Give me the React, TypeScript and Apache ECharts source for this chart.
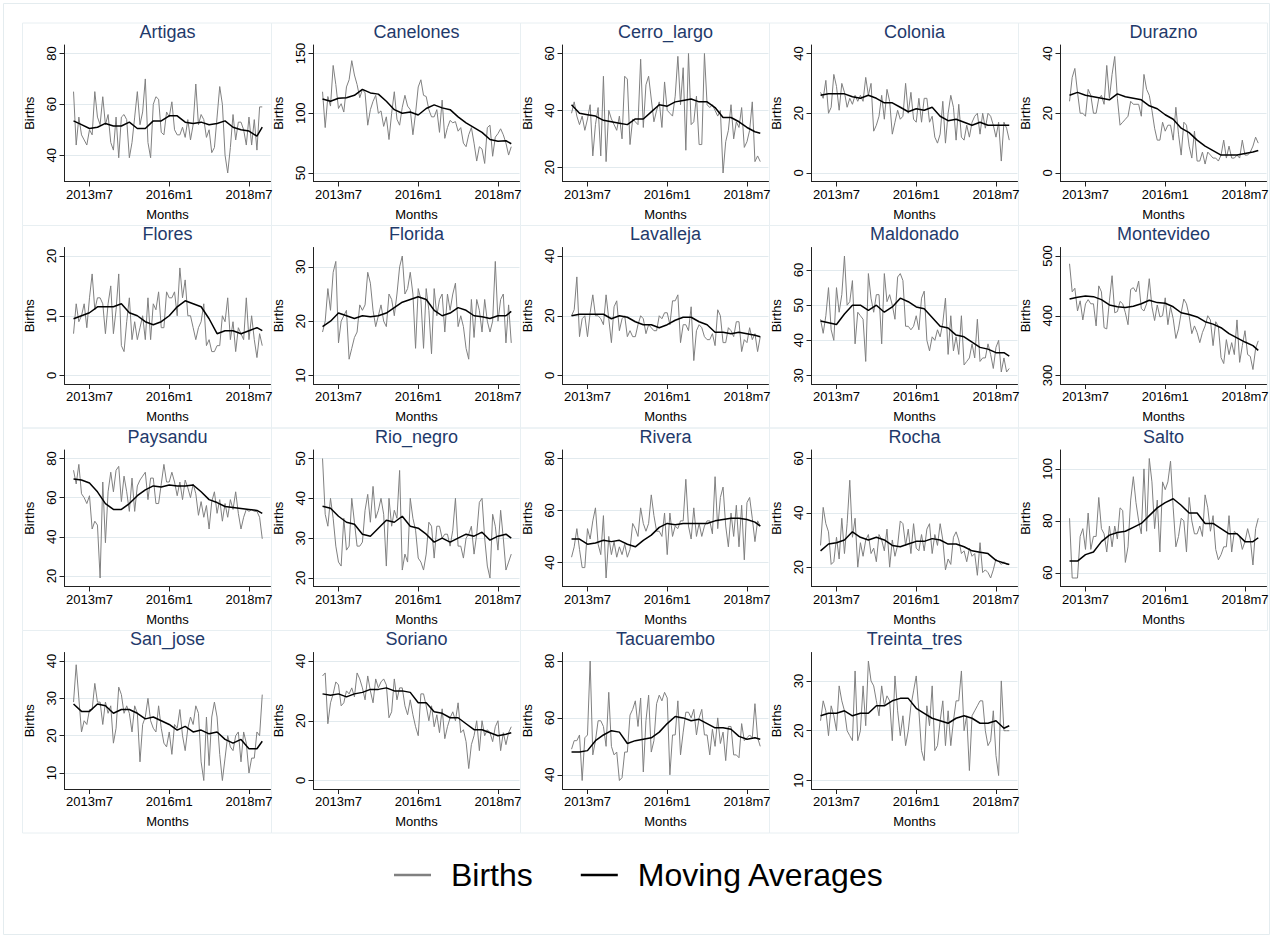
import React, { useEffect, useRef } from "react";
import * as echarts from "echarts";

const DEPARTMENTS = [
  "Artigas", "Canelones", "Cerro_largo", "Colonia", "Durazno",
  "Flores", "Florida", "Lavalleja", "Maldonado", "Montevideo",
  "Paysandu", "Rio_negro", "Rivera", "Rocha", "Salto",
  "San_jose", "Soriano", "Tacuarembo", "Treinta_tres",
];

// month index 0 = 2013m1
const MONTH_TICKS = [6, 36, 66];
const MONTH_LABELS = ["2013m7", "2016m1", "2018m7"];
const MA_MONTHS = [0, 3, 6, 9, 12, 15, 18, 21, 24, 27, 30, 33, 36, 39, 42, 45, 48, 51, 54, 57, 60, 63, 66, 69, 71];

const Y_TICKS = [
  [40, 60, 80], [50, 100, 150], [20, 40, 60], [0, 20, 40], [0, 20, 40],
  [0, 10, 20], [10, 20, 30], [0, 20, 40], [30, 40, 50, 60], [300, 400, 500],
  [20, 40, 60, 80], [20, 30, 40, 50], [40, 60, 80], [20, 40, 60], [60, 80, 100],
  [10, 20, 30, 40], [0, 20, 40], [40, 60, 80], [10, 20, 30],
];

const ARTIGAS_BIRTHS = [
  65, 44, 55, 48, 46, 44, 50, 48, 65, 55, 52, 63,
  52, 56, 45, 42, 55, 39, 55, 56, 54, 39, 45, 55,
  65, 52, 57, 70, 45, 39, 60, 63, 62, 49, 48, 57,
  55, 61, 50, 48, 48, 51, 47, 54, 46, 52, 68, 52,
  56, 54, 47, 50, 41, 43, 55, 67, 60, 40, 33, 43,
  56, 46, 53, 53, 50, 44, 55, 44, 54, 42, 59, 59,
];
const ARTIGAS_MA = [53.5, 52, 50.5, 51, 52.5, 51.5, 51.5, 53, 50.5, 50.5, 53.5, 53.5, 55.5, 55.5, 53, 52.5, 53, 52, 52.5, 53.5, 51, 50, 49.5, 47.5, 51];

const CANELONES_BIRTHS = [
  118, 88, 114, 106, 140, 124, 104, 108, 101, 122, 128, 144,
  132, 124, 113, 120, 117, 90, 103, 110, 115, 100, 102, 89,
  97, 78, 100, 118, 95, 90, 105, 115, 106, 103, 82, 100,
  122, 128, 115, 114, 103, 97, 97, 103, 84, 111, 79, 88,
  94, 92, 93, 85, 88, 75, 72, 82, 88, 75, 60, 72,
  70, 58, 88, 90, 64, 80, 83, 87, 82, 75, 65, 72,
];
const CANELONES_MA = [112, 110, 112.5, 113, 115, 120, 117, 116, 110, 103, 100, 101, 98.5, 104, 107, 104.5, 103, 97, 92, 88, 84, 78, 76.5, 77, 74.5];

const CERRO_LARGO_BIRTHS = [
  39, 43, 38, 35, 38, 33, 37, 42, 24, 35, 41, 24,
  52, 22, 40, 37, 35, 33, 38, 30, 52, 51, 28, 37,
  36, 35, 58, 34, 49, 52, 44, 36, 40, 43, 34, 50,
  40, 39, 38, 45, 59, 42, 55, 26, 60, 35, 36, 45,
  28, 28, 60, 42, 41, 42, 40, 38, 40, 18, 29, 33,
  42, 30, 36, 34, 41, 27, 29, 33, 43, 22, 24, 22,
];
const CERRO_LARGO_MA = [42, 39, 38.5, 38, 36.5, 36, 35.5, 35, 37, 37, 39.5, 42, 41.5, 43, 43.5, 44, 43, 43, 41, 37.5, 37.5, 36, 34, 32.5, 32];

const COLONIA_BIRTHS = [
  27, 25, 31, 20, 22, 33, 29, 21, 30, 27, 22, 25,
  23, 26, 24, 26, 24, 32, 26, 30, 14, 16, 19, 26,
  18, 28, 24, 13, 17, 21, 18, 19, 30, 20, 27, 18,
  17, 25, 17, 25, 25, 17, 19, 12, 10, 13, 24, 10,
  20, 26, 22, 11, 23, 12, 11, 16, 12, 17, 19, 20,
  13, 20, 15, 20, 19, 16, 12, 17, 4, 17, 15, 11,
];
const COLONIA_MA = [26, 26.5, 26.5, 26.5, 25.5, 25, 26, 25, 23.5, 23.5, 22, 20.5, 21.5, 21, 22, 19, 17.5, 18, 17, 16, 17, 16, 16, 16, 16];

const DURAZNO_BIRTHS = [
  24, 32, 35, 27, 20, 20, 19, 28, 26, 20, 20, 25,
  26, 23, 36, 25, 33, 39, 25, 16, 17, 18, 19, 24,
  23, 23, 23, 19, 33, 28, 26, 21, 15, 11, 11, 17,
  14, 16, 16, 11, 22, 13, 6, 17, 16, 9, 5, 14,
  4, 4, 7, 3, 7, 6, 5, 5, 4, 6, 11, 5,
  9, 5, 5, 6, 5, 11, 6, 6, 7, 9, 12, 10,
];
const DURAZNO_MA = [26, 27, 26, 25.5, 25, 24.5, 26.5, 25.5, 25, 24.5, 22.5, 21.5, 19.5, 18, 15, 13.5, 11, 9, 7.5, 6, 6, 6, 6.5, 7, 7.5];

const FLORES_BIRTHS = [
  7, 12, 9, 10, 12, 8, 13, 17, 11, 13, 13, 12,
  7, 12, 15, 7, 11, 17, 5, 4, 9, 13, 6, 9,
  6, 8, 10, 6, 13, 6, 12, 11, 14, 8, 8, 14,
  13, 13, 14, 10, 18, 13, 16, 10, 10, 8, 6, 8,
  9, 12, 5, 6, 4, 4, 5, 5, 10, 9, 13, 6,
  9, 4, 8, 7, 6, 13, 6, 10, 6, 3, 7, 5,
];
const FLORES_MA = [9.5, 10, 10.5, 11.5, 11.5, 11.5, 12, 10.5, 10, 9, 8.5, 9, 10, 11.5, 12.5, 12, 11.5, 9.5, 7, 7.5, 7.5, 7, 7.5, 8, 7.5];

const FLORIDA_BIRTHS = [
  18, 20, 26, 22, 29, 31, 16, 20, 21, 22, 13, 15,
  17, 18, 23, 22, 23, 29, 27, 22, 19, 21, 23, 20,
  19, 25, 24, 21, 25, 30, 32, 25, 26, 29, 25, 15,
  26, 24, 15, 26, 22, 14, 26, 21, 24, 25, 18, 25,
  22, 25, 27, 19, 21, 19, 15, 13, 24, 17, 24, 22,
  18, 24, 20, 18, 20, 31, 20, 24, 25, 16, 23, 16,
];
const FLORIDA_MA = [19, 20, 21.5, 21, 20.5, 21, 20.8, 21, 21.5, 22.5, 23.5, 24, 24.5, 24, 22, 21, 21.5, 22.5, 22, 21, 20.8, 20.5, 21, 21, 21.8];

const LAVALLEJA_BIRTHS = [
  20, 22, 33, 13, 19, 20, 13, 21, 27, 20, 20, 19,
  17, 27, 19, 11, 23, 25, 15, 19, 20, 13, 15, 13,
  13, 17, 20, 19, 14, 17, 16, 15, 15, 20, 19, 21,
  21, 17, 25, 25, 27, 11, 17, 17, 15, 23, 5, 15,
  17, 16, 13, 12, 12, 14, 10, 22, 20, 11, 11, 16,
  15, 13, 18, 18, 8, 12, 11, 16, 12, 14, 8, 13,
];
const LAVALLEJA_MA = [20, 20.5, 20.5, 20.5, 20.5, 19, 20, 19.5, 18, 17, 17, 16, 17, 18.5, 19.5, 19.5, 18, 17, 14.5, 14.5, 14, 14.5, 14, 13.5, 13];

const MALDONADO_BIRTHS = [
  46, 42, 47, 55, 43, 40, 55, 48, 53, 64, 50, 51,
  57, 39, 48, 47, 46, 34, 59, 52, 48, 53, 53, 39,
  59, 51, 53, 50, 46, 58, 59, 57, 44, 44, 43, 44,
  47, 43, 52, 54, 40, 37, 41, 40, 43, 41, 45, 52,
  36, 47, 37, 41, 36, 47, 33, 34, 35, 39, 35, 46,
  34, 35, 35, 39, 36, 32, 38, 40, 31, 35, 31, 32,
];
const MALDONADO_MA = [45.5, 45, 44.5, 47.5, 50, 50, 48.5, 50, 48, 49.5, 52, 51, 49.5, 49, 46.5, 44, 43.5, 41.5, 41, 39.5, 38, 37.5, 36.5, 36.5, 35.5];

const MONTEVIDEO_BIRTHS = [
  487, 440, 446, 408, 425, 393, 420, 427, 420, 420, 383, 450,
  440, 380, 378, 425, 467, 405, 407, 424, 420, 405, 385, 444,
  447, 440, 458, 412, 408, 420, 462, 415, 392, 418, 398, 400,
  430, 385, 415, 395, 362, 378, 405, 428, 420, 400, 370, 383,
  372, 355, 372, 383, 400, 393, 350, 390, 382, 330, 320, 360,
  335, 355, 335, 393, 322, 350, 375, 335, 332, 310, 345, 358,
];
const MONTEVIDEO_MA = [428, 431, 433, 432, 427, 418, 415, 414, 416, 420, 426, 422, 421, 415, 405, 402, 398, 390, 386, 380, 370, 363, 356, 350, 342];

const PAYSANDU_BIRTHS = [
  74, 67, 77, 62, 60, 57, 61, 44, 48, 46, 19, 68,
  37, 63, 73, 63, 74, 76, 58, 71, 63, 53, 70, 53,
  66, 69, 71, 73, 59, 70, 70, 57, 57, 67, 77, 68,
  68, 73, 68, 61, 68, 59, 69, 65, 60, 67, 62, 51,
  58, 50, 56, 44, 58, 63, 52, 59, 48, 57, 50, 59,
  54, 63, 52, 44, 50, 54, 53, 54, 53, 53, 50, 39,
];
const PAYSANDU_MA = [69.5, 69, 67.5, 63, 57, 54, 54, 57, 61, 64, 66, 65.5, 66.5, 66, 66, 66.5, 63, 59, 57.5, 55.5, 55, 54.5, 54, 53.5, 52];

const RIO_NEGRO_BIRTHS = [
  50, 36, 33, 40, 35, 28, 24, 23, 35, 27, 28, 40,
  34, 28, 28, 29, 37, 41, 34, 43, 35, 37, 40, 36,
  23, 40, 33, 37, 35, 47, 22, 26, 24, 40, 35, 32,
  25, 24, 22, 26, 34, 33, 25, 33, 33, 30, 31, 31,
  28, 32, 40, 28, 28, 25, 30, 31, 33, 26, 31, 39,
  40, 30, 23, 20, 36, 33, 27, 37, 30, 22, 24, 26,
];
const RIO_NEGRO_MA = [38, 37.5, 35.5, 34, 33.5, 31, 30.5, 32.5, 34.5, 34, 35.5, 33, 32.5, 31, 29, 30, 29, 30, 31, 30.5, 31.5, 29.5, 30.5, 31, 30];

const RIVERA_BIRTHS = [
  42, 46, 53, 45, 38, 38, 53, 49, 56, 61, 47, 43,
  58, 34, 50, 43, 48, 42, 46, 43, 47, 42, 45, 55,
  53, 50, 61, 55, 52, 55, 66, 58, 52, 52, 50, 59,
  43, 59, 50, 54, 53, 56, 56, 72, 54, 49, 61, 50,
  55, 50, 54, 56, 56, 51, 73, 53, 65, 69, 54, 46,
  59, 50, 62, 46, 62, 41, 63, 65, 57, 48, 56, 54,
];
const RIVERA_MA = [49, 49, 47, 47.5, 48.5, 48, 48.5, 47, 46, 48.5, 50.5, 53.5, 55, 54.5, 55, 55, 55, 55, 56, 56.5, 57, 57, 56.5, 55.5, 54];

const ROCHA_BIRTHS = [
  28, 42, 36, 33, 21, 22, 31, 23, 38, 25, 36, 52,
  31, 38, 20, 29, 24, 30, 32, 25, 27, 22, 32, 30,
  26, 34, 20, 30, 24, 28, 37, 36, 28, 34, 25, 36,
  27, 26, 32, 26, 34, 36, 25, 32, 28, 36, 30, 19,
  23, 21, 31, 33, 30, 25, 26, 22, 27, 24, 25, 17,
  29, 18, 19, 18, 16, 19, 23, 22, 21, 22, 21, 21,
];
const ROCHA_MA = [26, 28.5, 29, 30, 33, 31, 30, 31, 30, 28, 27.5, 28.5, 29.5, 29.5, 30.5, 30, 28.5, 28.5, 27.5, 26, 25.5, 25, 22.5, 21.5, 21];

const SALTO_BIRTHS = [
  81, 58, 58, 58, 74, 77, 69, 83, 69, 74, 74, 89,
  77, 75, 68, 78, 70, 78, 73, 85, 84, 64, 70, 88,
  97, 87, 80, 75, 100, 76, 104, 95, 77, 88, 68, 95,
  92, 95, 103, 85, 70, 74, 81, 80, 68, 89, 80, 75,
  75, 78, 74, 90, 85, 76, 82, 69, 65, 67, 70, 70,
  82, 68, 76, 75, 74, 69, 72, 77, 73, 63, 77, 81,
];
const SALTO_MA = [64.5, 64.5, 67, 68, 72, 74.5, 75.5, 76, 77.5, 79, 82, 85, 87, 88.5, 86, 83, 83, 79, 79, 77, 75, 75, 72, 72, 73.5];

const SAN_JOSE_BIRTHS = [
  29, 39, 30, 21, 24, 23, 27, 27, 34, 29, 29, 23,
  29, 26, 28, 18, 22, 33, 31, 26, 28, 26, 21, 28,
  26, 13, 23, 25, 30, 24, 22, 21, 28, 22, 18, 17,
  21, 15, 23, 22, 27, 20, 16, 22, 25, 23, 28, 26,
  13, 8, 25, 12, 25, 29, 25, 15, 8, 14, 20, 17,
  16, 20, 21, 13, 21, 18, 10, 14, 14, 21, 20, 31,
];
const SAN_JOSE_MA = [28.5, 26.5, 26.5, 28.5, 28, 26, 27, 27, 26, 24.5, 25, 24, 23, 21.5, 22.5, 21, 21.5, 20.5, 21, 19, 18, 19, 16.5, 16.5, 18.5];

const SORIANO_BIRTHS = [
  35, 36, 19, 26, 29, 33, 32, 25, 26, 30, 29, 31,
  28, 36, 34, 31, 27, 35, 30, 26, 34, 31, 33, 34,
  32, 21, 23, 34, 27, 31, 31, 25, 22, 27, 22, 18,
  15, 29, 29, 25, 20, 25, 18, 22, 16, 24, 14, 18,
  21, 23, 20, 26, 16, 17, 13, 4, 12, 15, 20, 10,
  20, 15, 17, 16, 13, 18, 20, 10, 16, 12, 16, 18,
];
const SORIANO_MA = [29, 28.5, 29, 28, 29, 29.5, 30.5, 30.5, 31, 30, 30, 29.5, 26, 26, 23, 22.5, 21, 21, 19, 17, 17, 16, 15, 15.5, 16];

const TACUAREMBO_BIRTHS = [
  49, 52, 52, 54, 38, 53, 54, 80, 47, 52, 59, 59,
  57, 50, 69, 50, 47, 48, 38, 39, 48, 48, 61, 63,
  66, 57, 67, 41, 59, 68, 48, 52, 65, 68, 66, 69,
  67, 40, 54, 54, 66, 47, 55, 62, 62, 60, 63, 54,
  60, 63, 54, 54, 47, 56, 50, 60, 51, 55, 45, 57,
  57, 47, 47, 46, 58, 52, 53, 54, 53, 65, 53, 50,
];
const TACUAREMBO_MA = [48, 48, 48.5, 52, 54, 55.5, 55, 51, 52, 52.5, 53, 55, 58, 60.5, 60, 59, 59.5, 58, 56.5, 56.5, 56, 53.5, 52.5, 53, 52.5];

const TREINTA_TRES_BIRTHS = [
  22, 26, 24, 19, 25, 23, 20, 29, 26, 24, 20, 19,
  18, 32, 18, 20, 29, 21, 34, 30, 29, 26, 23, 29,
  25, 27, 26, 18, 31, 24, 19, 23, 17, 20, 25, 28,
  31, 24, 16, 14, 25, 21, 29, 16, 17, 22, 26, 17,
  24, 17, 22, 26, 26, 32, 20, 23, 12, 23, 24, 25,
  26, 26, 20, 17, 18, 24, 15, 11, 30, 20, 20, 20,
];
const TREINTA_TRES_MA = [23, 23.5, 23.5, 24, 23, 23.5, 23.5, 25, 25, 26, 26.5, 26.5, 24.5, 23.5, 22.5, 22, 21.5, 22.5, 23, 22.5, 21.5, 21.5, 22, 20.5, 21];

const BIRTHS = [
  ARTIGAS_BIRTHS, CANELONES_BIRTHS, CERRO_LARGO_BIRTHS, COLONIA_BIRTHS, DURAZNO_BIRTHS,
  FLORES_BIRTHS, FLORIDA_BIRTHS, LAVALLEJA_BIRTHS, MALDONADO_BIRTHS, MONTEVIDEO_BIRTHS,
  PAYSANDU_BIRTHS, RIO_NEGRO_BIRTHS, RIVERA_BIRTHS, ROCHA_BIRTHS, SALTO_BIRTHS,
  SAN_JOSE_BIRTHS, SORIANO_BIRTHS, TACUAREMBO_BIRTHS, TREINTA_TRES_BIRTHS,
];
const MOVING_AVG = [
  ARTIGAS_MA, CANELONES_MA, CERRO_LARGO_MA, COLONIA_MA, DURAZNO_MA,
  FLORES_MA, FLORIDA_MA, LAVALLEJA_MA, MALDONADO_MA, MONTEVIDEO_MA,
  PAYSANDU_MA, RIO_NEGRO_MA, RIVERA_MA, ROCHA_MA, SALTO_MA,
  SAN_JOSE_MA, SORIANO_MA, TACUAREMBO_MA, TREINTA_TRES_MA,
];

const FONT = '"Liberation Sans", Arial, Helvetica, sans-serif';
const AXIS_COLOR = "#222";
const TEXT_COLOR = "#000";

function buildOption() {
  const grids: any[] = [];
  const xAxes: any[] = [];
  const yAxes: any[] = [];
  const series: any[] = [];
  const titles: any[] = [];
  const graphics: any[] = [
    {
      type: "rect",
      silent: true,
      z: -10,
      shape: { x: 3.5, y: 3.5, width: 1266, height: 931 },
      style: { fill: "#fff", stroke: "#e4ecef", lineWidth: 1 },
    },
  ];

  DEPARTMENTS.forEach((name, p) => {
    const col = p % 5;
    const row = Math.floor(p / 5);
    const bx = 22 + 249 * col;
    const by = 22.5 + 202.5 * row;
    const left = bx + 42.5;
    const top = by + 22.5;
    const w = 206;
    const h = 136.5;

    graphics.push({
      type: "rect",
      silent: true,
      z: -9,
      shape: { x: bx + 0.5, y: by + 0.5, width: 249, height: 202.5 },
      style: { fill: "none", stroke: "#e8eff2", lineWidth: 1 },
    });

    grids.push({ left, top, width: w, height: h });

    const ticks = Y_TICKS[p];
    const vals = [...BIRTHS[p], ...MOVING_AVG[p]];
    const lo = Math.min(ticks[0], ...vals);
    const hi = Math.max(ticks[ticks.length - 1], ...vals);
    const pad = ((hi - lo) * 8.5) / (h - 17);

    xAxes.push({
      gridIndex: p,
      type: "value",
      min: -3.4,
      max: 74.1,
      axisLine: { show: true, onZero: false, lineStyle: { color: AXIS_COLOR, width: 1 } },
      axisTick: { show: true, length: 5, customValues: MONTH_TICKS, lineStyle: { color: AXIS_COLOR } },
      axisLabel: {
        customValues: MONTH_TICKS,
        formatter: (v: number) => MONTH_LABELS[MONTH_TICKS.indexOf(Math.round(v))] ?? "",
        margin: 6,
        fontSize: 13,
        color: TEXT_COLOR,
        fontFamily: FONT,
      },
      splitLine: { show: false },
      name: "Months",
      nameLocation: "middle",
      nameGap: 26,
      nameTextStyle: { fontSize: 13, color: TEXT_COLOR, fontFamily: FONT },
    });

    yAxes.push({
      gridIndex: p,
      type: "value",
      min: lo - pad,
      max: hi + pad,
      axisLine: { show: true, onZero: false, lineStyle: { color: AXIS_COLOR, width: 1 } },
      axisTick: { show: true, length: 5, customValues: ticks, lineStyle: { color: AXIS_COLOR } },
      axisLabel: {
        customValues: ticks,
        rotate: 90,
        margin: 7,
        fontSize: 13,
        color: TEXT_COLOR,
        fontFamily: FONT,
      },
      splitLine: { show: true, lineStyle: { color: "#e2eaee", width: 1 } },
      name: "Births",
      nameLocation: "middle",
      nameRotate: 90,
      nameGap: 29,
      nameTextStyle: { fontSize: 13, color: TEXT_COLOR, fontFamily: FONT },
    });

    series.push({
      name: "Births",
      type: "line",
      xAxisIndex: p,
      yAxisIndex: p,
      data: BIRTHS[p].map((v, i) => [i, v]),
      symbol: "none",
      showSymbol: false,
      lineStyle: { color: "#808080", width: 1 },
      itemStyle: { color: "#808080" },
      z: 2,
    });
    series.push({
      name: "Moving Averages",
      type: "line",
      xAxisIndex: p,
      yAxisIndex: p,
      data: MA_MONTHS.map((m, k) => [m, MOVING_AVG[p][k]]),
      symbol: "none",
      showSymbol: false,
      lineStyle: { color: "#000", width: 1.5 },
      itemStyle: { color: "#000" },
      z: 3,
    });

    titles.push({
      text: name,
      left: left + w / 2,
      top: by,
      textAlign: "center",
      padding: 0,
      textStyle: { fontSize: 18, fontWeight: "normal", color: "#1f3a6b", fontFamily: FONT },
    });
  });

  return {
    animation: false,
    backgroundColor: "#fff",
    title: titles,
    grid: grids,
    xAxis: xAxes,
    yAxis: yAxes,
    series,
    graphic: graphics,
    legend: {
      data: ["Births", "Moving Averages"],
      left: 394,
      top: 859,
      padding: 0,
      icon: "rect",
      itemWidth: 37,
      itemHeight: 2.5,
      itemGap: 48,
      selectedMode: false,
      textStyle: { fontSize: 32, color: TEXT_COLOR, fontFamily: FONT, padding: [0, 0, 0, 15] },
    },
  };
}

export default function App() {
  const ref = useRef<HTMLDivElement>(null);
  useEffect(() => {
    if (!ref.current) return;
    const chart = echarts.init(ref.current, undefined, { renderer: "svg" });
    chart.setOption(buildOption() as any);
    return () => chart.dispose();
  }, []);
  return (
    <div
      ref={ref}
      style={{ position: "absolute", left: 0, top: 0, width: 1287, height: 936, background: "#fff" }}
    />
  );
}
